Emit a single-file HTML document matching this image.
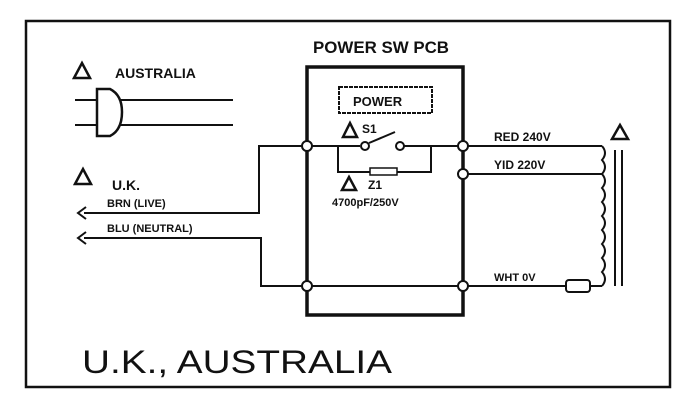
<!DOCTYPE html>
<html><head><meta charset="utf-8"><style>
html,body{margin:0;padding:0;background:#fff;}
svg{display:block;}
text{font-family:"Liberation Sans",sans-serif;font-weight:bold;fill:#111;}
</style></head><body>
<svg width="695" height="417" viewBox="0 0 695 417" xmlns="http://www.w3.org/2000/svg">
<g stroke="#111" fill="none">
<rect x="26" y="21" width="644" height="366" stroke-width="2.5"/>
<!-- PCB box -->
<rect x="307" y="67" width="156" height="248" stroke-width="3.5"/>
<!-- POWER box -->
<rect x="339" y="87" width="93" height="26" stroke-width="2" stroke-dasharray="4 1"/>
<!-- australia plug -->
<line x1="75" y1="100" x2="233" y2="100" stroke-width="2"/>
<line x1="75" y1="125" x2="233" y2="125" stroke-width="2"/>
<path d="M97 89 L110 89 Q122 95 122 112 Q122 130 110 136 L97 136 Z" fill="#fff" stroke-width="2.5"/>
<!-- UK wires -->
<polyline points="84,213 259,213 259,146 307,146" stroke-width="2"/>
<polyline points="84,238 261,238 261,286 307,286" stroke-width="2"/>
<path d="M86 207 L78 213 L86 219" stroke-width="2"/>
<path d="M86 232 L78 238 L86 244" stroke-width="2"/>
<!-- switch -->
<line x1="307" y1="146" x2="360" y2="146" stroke-width="2"/>
<line x1="404" y1="146" x2="463" y2="146" stroke-width="2"/>
<line x1="369" y1="143" x2="395" y2="132" stroke-width="2"/>
<polyline points="338,146 338,172 370,172" stroke-width="2"/>
<polyline points="397,172 431,172 431,146" stroke-width="2"/>
<rect x="370" y="168" width="27" height="7" stroke-width="1.5"/>
<!-- right side -->
<line x1="463" y1="146" x2="602" y2="146" stroke-width="2"/>
<line x1="463" y1="174" x2="602" y2="174" stroke-width="2"/>
<line x1="307" y1="286" x2="566" y2="286" stroke-width="2"/>
<rect x="566" y="280" width="24" height="12" rx="3" stroke-width="2"/>
<line x1="590" y1="286" x2="602" y2="286" stroke-width="2"/>
<path d="M602 146 q6 7 0 14 q6 7 0 14 q6 7 0 14 q6 7 0 14 q6 7 0 14 q6 7 0 14 q6 7 0 14 q6 7 0 14 q6 7 0 14 q6 7 0 14 L602 286" stroke-width="2"/>
<line x1="615" y1="150" x2="615" y2="286" stroke-width="2"/>
<line x1="622" y1="150" x2="622" y2="286" stroke-width="2"/>
<!-- nodes -->
<g fill="#fff" stroke-width="2">
<circle cx="307" cy="146" r="5"/><circle cx="307" cy="286" r="5"/>
<circle cx="463" cy="146" r="5"/><circle cx="463" cy="174" r="5"/><circle cx="463" cy="286" r="5"/>
<circle cx="365" cy="146" r="4"/><circle cx="400" cy="146" r="4"/>
</g>
<!-- warning triangles -->
<g stroke-width="2.5">
<path d="M74 78 L82 63 L90 78 Z"/>
<path d="M75 184 L83 169 L91 184 Z"/>
<path d="M343 137 L350 123 L357 137 Z"/>
<path d="M342 190 L349 177 L356 190 Z"/>
<path d="M612 139 L620 125 L628 139 Z"/>
</g>
</g>
<text x="115" y="78" font-size="14">AUSTRALIA</text>
<text x="112" y="190" font-size="14">U.K.</text>
<text x="107" y="207" font-size="11">BRN (LIVE)</text>
<text x="107" y="232" font-size="11">BLU (NEUTRAL)</text>
<text x="313" y="53" font-size="17" textLength="136" lengthAdjust="spacingAndGlyphs">POWER SW PCB</text>
<text x="353" y="106" font-size="13">POWER</text>
<text x="362" y="133" font-size="12">S1</text>
<text x="368" y="189" font-size="12">Z1</text>
<text x="332" y="206" font-size="11">4700pF/250V</text>
<text x="494" y="141" font-size="12">RED 240V</text>
<text x="494" y="169" font-size="12">YID 220V</text>
<text x="494" y="281" font-size="11">WHT 0V</text>
<text x="82" y="373" font-size="32" style="font-weight:normal" textLength="310" lengthAdjust="spacingAndGlyphs">U.K.,   AUSTRALIA</text>
</svg>
</body></html>
